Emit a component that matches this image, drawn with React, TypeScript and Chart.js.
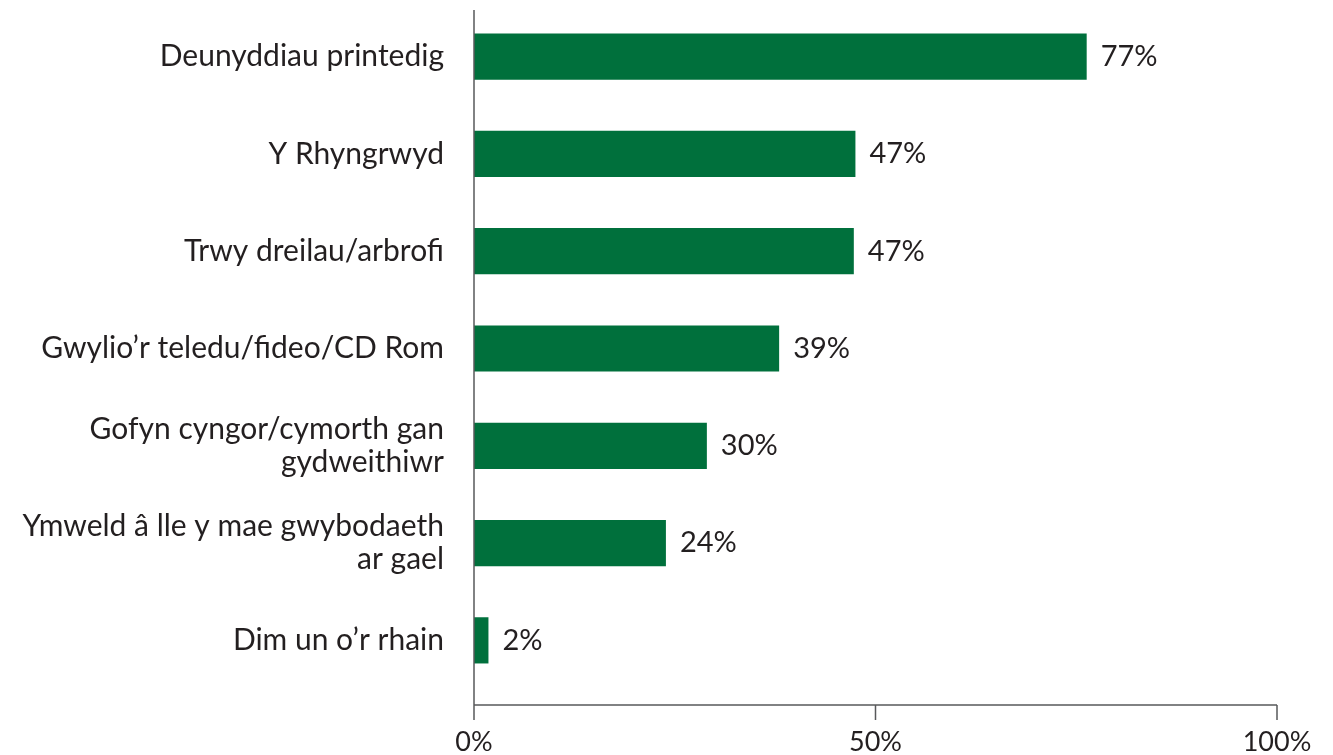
import React, { useEffect, useRef } from "react";
import { Chart, registerables } from "chart.js";

Chart.register(...registerables);

const categories: (string | string[])[] = [
  "Deunyddiau printedig",
  "Y Rhyngrwyd",
  "Trwy dreilau/arbrofi",
  "Gwylio’r teledu/fideo/CD Rom",
  ["Gofyn cyngor/cymorth gan", "gydweithiwr"],
  ["Ymweld â lle y mae gwybodaeth", "ar gael"],
  "Dim un o’r rhain",
];
const values = [76.3, 47.5, 47.3, 38.0, 29.0, 23.9, 1.8];
const valueLabels = ["77%", "47%", "47%", "39%", "30%", "24%", "2%"];
const xTicks = [0, 50, 100];

const FONT = "Lato, 'Open Sans', sans-serif";
const TEXT = "#231f20";
const AXIS = "#58595b";

const axesPlugin = {
  id: "customAxes",
  afterDatasetsDraw(chart: any) {
    const { ctx, chartArea } = chart;
    const xs = chart.scales.x;
    const x0 = xs.getPixelForValue(0);
    const x1 = xs.getPixelForValue(100);
    const axisY = chartArea.bottom + 16;
    const tickEnd = chartArea.bottom + 31;
    ctx.save();
    ctx.strokeStyle = AXIS;
    ctx.lineWidth = 1.5;
    ctx.beginPath();
    ctx.moveTo(x0, chartArea.top + 2);
    ctx.lineTo(x0, tickEnd);
    ctx.moveTo(x0, axisY);
    ctx.lineTo(x1, axisY);
    xTicks.forEach((t) => {
      const px = xs.getPixelForValue(t);
      ctx.moveTo(px, axisY);
      ctx.lineTo(px, tickEnd);
    });
    ctx.stroke();

    // value labels
    const meta = chart.getDatasetMeta(0);
    ctx.fillStyle = TEXT;
    ctx.font = `29px ${FONT}`;
    ctx.textAlign = "left";
    ctx.textBaseline = "middle";
    meta.data.forEach((bar: any, i: number) => {
      ctx.fillText(valueLabels[i], bar.x + 14, bar.y);
    });
    ctx.restore();
  },
};

export default function App() {
  const ref = useRef<HTMLCanvasElement | null>(null);
  useEffect(() => {
    document.body.style.margin = "0";
    const chart = new Chart(ref.current!, {
      type: "bar",
      data: {
        labels: categories,
        datasets: [
          {
            data: values,
            backgroundColor: "#00703c",
            barPercentage: 0.95,
            categoryPercentage: 0.5,
          },
        ],
      },
      options: {
        indexAxis: "y",
        animation: false,
        responsive: true,
        maintainAspectRatio: false,
        layout: { padding: { top: 8, right: 56, bottom: 0, left: 0 } },
        plugins: { legend: { display: false }, tooltip: { enabled: false } },
        scales: {
          x: {
            min: 0,
            max: 100,
            afterBuildTicks: (s: any) => {
              s.ticks = xTicks.map((v) => ({ value: v }));
            },
            afterFit: (s: any) => {
              s.paddingLeft = 0;
              s.paddingRight = 0;
              s.height = 66;
            },
            grid: { display: false, drawTicks: false },
            border: { display: false },
            ticks: {
              padding: 37,
              color: TEXT,
              font: { family: FONT, size: 27, lineHeight: 1.2 },
              callback: (v: any) => `${v}%`,
            },
          },
          y: {
            afterFit: (s: any) => {
              s.width = 474;
              s.paddingTop = 0;
              s.paddingBottom = 0;
            },
            grid: { display: false, drawTicks: false },
            border: { display: false },
            ticks: {
              padding: 30,
              color: TEXT,
              font: { family: FONT, size: 30, lineHeight: 1.1 },
            },
          },
        },
      },
      plugins: [axesPlugin],
    });
    return () => chart.destroy();
  }, []);
  return (
    <div style={{ position: "absolute", left: 0, top: 0, width: 1333, height: 755 }}>
      <canvas ref={ref} />
    </div>
  );
}
